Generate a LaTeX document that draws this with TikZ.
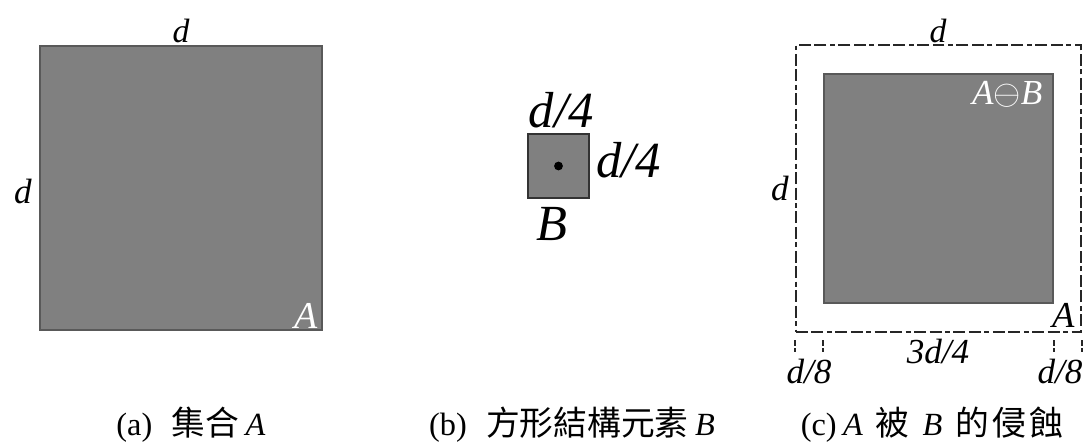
\documentclass[tikz,border=0pt]{standalone}
\usepackage{fontspec}
\setmainfont{Liberation Serif}
\newfontfamily\cjk{Noto Sans CJK TC}
\usetikzlibrary{positioning}

\begin{document}
\begin{tikzpicture}[
    setbox/.style={draw=gray!70!black, fill=gray, line width=0.9pt, inner sep=0pt},
    bordbox/.style={draw=black!85, line width=1.4pt, inner sep=0pt,
        dash pattern=on 8.5pt off 2.5pt on 8.5pt off 2.5pt on 3.5pt off 2.5pt},
    tick/.style={draw=black!85, line width=1.4pt, dash pattern=on 4pt off 2pt},
    dimlabel/.style={inner sep=0pt, anchor=base, font=\fontsize{24}{28}\selectfont\itshape},
    sidelabel/.style={inner sep=0pt, anchor=base, font=\fontsize{25}{28}\selectfont\itshape},
    biglabel/.style={inner sep=0pt, anchor=base, font=\fontsize{36}{40}\selectfont\itshape},
    caption/.style={inner sep=0pt, anchor=base, font=\fontsize{23}{26}\selectfont},
]
\newcommand{\zh}[1]{{\cjk\fontsize{24}{26}\selectfont #1}}
\useasboundingbox (0,0) rectangle (27.225,11.075);

% ===================== (a) SET A =====================
\node[setbox, minimum width=7.05cm, minimum height=7.1cm] (setA) at (4.525, 6.375) {};
\node[dimlabel] (dA) at (4.525, 10.0) {d};
\node[sidelabel] (dAside) at (0.575, 6.0) {d};
\node[sidelabel, font=\fontsize{27}{30}\selectfont\itshape, text=white] (nameA) at (7.65, 2.875) {A};
\node[caption] (capA) at (4.775, 0.2) {(a)\hspace{0.6em}\zh{集合}\hspace{0.2em}\textit{A}};

% ===================== (b) STRUCTURING ELEMENT B =====================
\node[setbox, draw=black!80, minimum width=1.525cm, minimum height=1.6cm] (setB) at (13.9625, 6.925) {};
\node[circle, fill=black, inner sep=0pt, minimum size=0.22cm] (dotB) at (setB.center) {};
\node[biglabel] (dBtop) at (14.03, 7.9) {d/4};
\node[biglabel, anchor=base west] (dBside) at (14.9, 6.65) {d/4};
\node[biglabel] (nameB) at (13.8, 5.075) {B};
\node[caption] (capB) at (14.3, 0.2) {(b)\hspace{0.6em}\zh{方形結構元素}\hspace{0.2em}\textit{B}};

% ===================== (c) EROSION =====================
\node[bordbox, minimum width=7.125cm, minimum height=7.175cm] (outerC) at (23.4625, 6.3625) {};
\node[setbox, minimum width=5.725cm, minimum height=5.725cm] (eroded) at (23.4625, 6.3625) {};
\node[dimlabel] (dC) at (23.45, 10.0) {d};
\node[sidelabel] (dCside) at (19.5, 6.075) {d};
\node[sidelabel, text=white] (nameAB) at (25.18, 8.475) {A$\ominus$B};
\node[sidelabel, font=\fontsize{26}{30}\selectfont\itshape] (nameAC) at (26.58, 2.9) {A};

% ticks under the border
\draw[tick] (outerC.south west |- 0,2.575) coordinate (tk1) -- ++(0,-0.3);
\draw[tick] (eroded.south west |- 0,2.575) coordinate (tk2) -- ++(0,-0.3);
\draw[tick] (eroded.south east |- 0,2.575) coordinate (tk3) -- ++(0,-0.3);
\draw[tick] (outerC.south east |- 0,2.575) coordinate (tk4) -- ++(0,-0.3);

\node[sidelabel] (eL) at (20.225, 1.5) {d/8};
\node[sidelabel] (eM) at (23.45, 2.0) {3d/4};
\node[sidelabel] (eR) at (26.5, 1.5) {d/8};
\node[caption] (capC) at (23.3, 0.2) {(c)\hspace{0.2em}\textit{A}\hspace{0.4em}\zh{被}\hspace{0.4em}\textit{B}\hspace{0.4em}\zh{的\hspace{0.1em}侵\hspace{0.1em}蝕}};

\end{tikzpicture}
\end{document}
